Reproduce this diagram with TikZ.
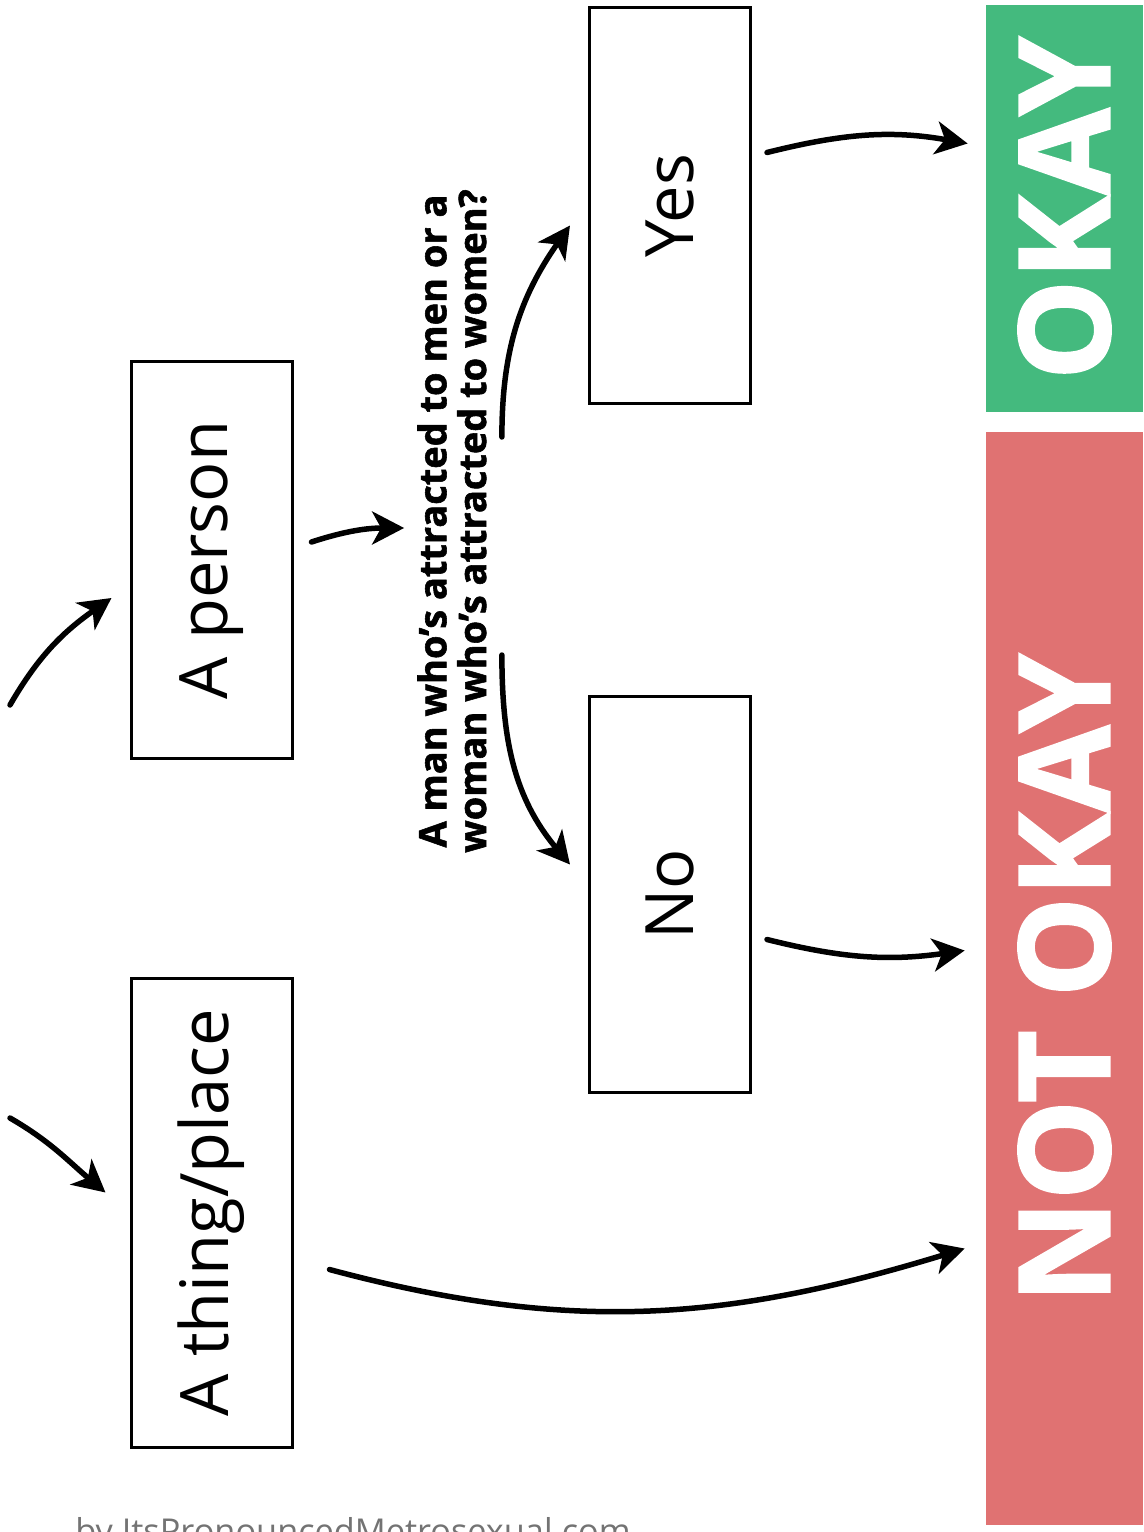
\documentclass[tikz,border=0pt]{standalone}
\usepackage{fontspec}
\setmainfont{Open Sans}
\newfontfamily\heavyfont{Open Sans}[BoldFeatures={FakeBold=1.5}]
\usepackage{xcolor}
\usepackage{tikz}
\usetikzlibrary{arrows.meta, calc}
\definecolor{okgreen}{RGB}{68,186,126}
\definecolor{notred}{RGB}{224,114,114}
\tikzstyle{choice} = [rectangle, rotate=90, minimum width=79.2mm, minimum height=32.2mm, text centered, draw=black, line width=0.6mm, font=\fontsize{38}{40}\selectfont]
\tikzstyle{question} = [rotate=90, align=center, inner sep=0pt, font=\heavyfont\bfseries\fontsize{21.6}{22.6}\selectfont]
\tikzstyle{verdict} = [rectangle, rotate=90, minimum height=31.4mm, inner sep=0pt, text=white, font=\heavyfont\bfseries\fontsize{72}{72}\selectfont]
\tikzstyle{arrow} = [line width=1.1mm, line cap=round, -{Stealth[length=6.4mm, width=6.6mm, inset=1.8mm]}]

\begin{document}
\begin{tikzpicture}[x=0.2mm, y=-0.2mm]
\useasboundingbox (0,0) rectangle (1143,1532);

% Answers
\node (person) [choice] at (211.5,560) {A person};
\node (thing) [choice, minimum width=93.8mm] at (211.5,1212.5) {A thing/place};

% Question
\node (question) [question] at (452,521) {A man who’s attracted to men or a\\woman who’s attracted to women?};
\node (yes) [choice] at (670,205.5) {Yes};
\node (no) [choice] at (670,894.5) {No};

% Verdicts
\node (okay) [verdict, fill=okgreen, minimum width=81.4mm] at (1064.5,208.5) {OKAY};
\node (notokay) [verdict, fill=notred, minimum width=218.6mm] at (1064.5,978.5) {NOT OKAY};

\node (credit) [anchor=base west, inner sep=0pt, text=black!55, font=\fontsize{19.5}{21}\selectfont] at (75,1543) {by ItsPronouncedMetrosexual.com};

% Connections
\coordinate (root1) at (10,705);
\coordinate (root2) at (10,1118);
\draw [arrow] (root1) to[out=60, in=215] ($(person.north)+(-18,38)$);
\draw [arrow] (root2) to[out=-30, in=140] ($(thing.north)+(-24,-20)$);

\draw [arrow] ($(person.south)+(18,-18)$) to[out=18, in=180] ($(question.north)+(-13,7)$);
\draw [arrow] ($(question.south)+(15,-84)$) to[out=90, in=235] ($(yes.north)+(-18,20)$);
\draw [arrow] ($(question.south)+(15,134)$) to[out=270, in=130] ($(no.north)+(-18,-30)$);

\draw [arrow] ($(yes.south)+(15,-53)$) to[out=14, in=170] ($(okay.north)+(-18,-65)$);
\draw [arrow] ($(no.south)+(15,45)$) to[out=-14, in=188] ($(notokay.north)+(-21,-28)$);
\draw [arrow] ($(thing.south)+(36,57)$) to[out=-15, in=197] ($(notokay.north)+(-21,270)$);

\end{tikzpicture}
\end{document}
